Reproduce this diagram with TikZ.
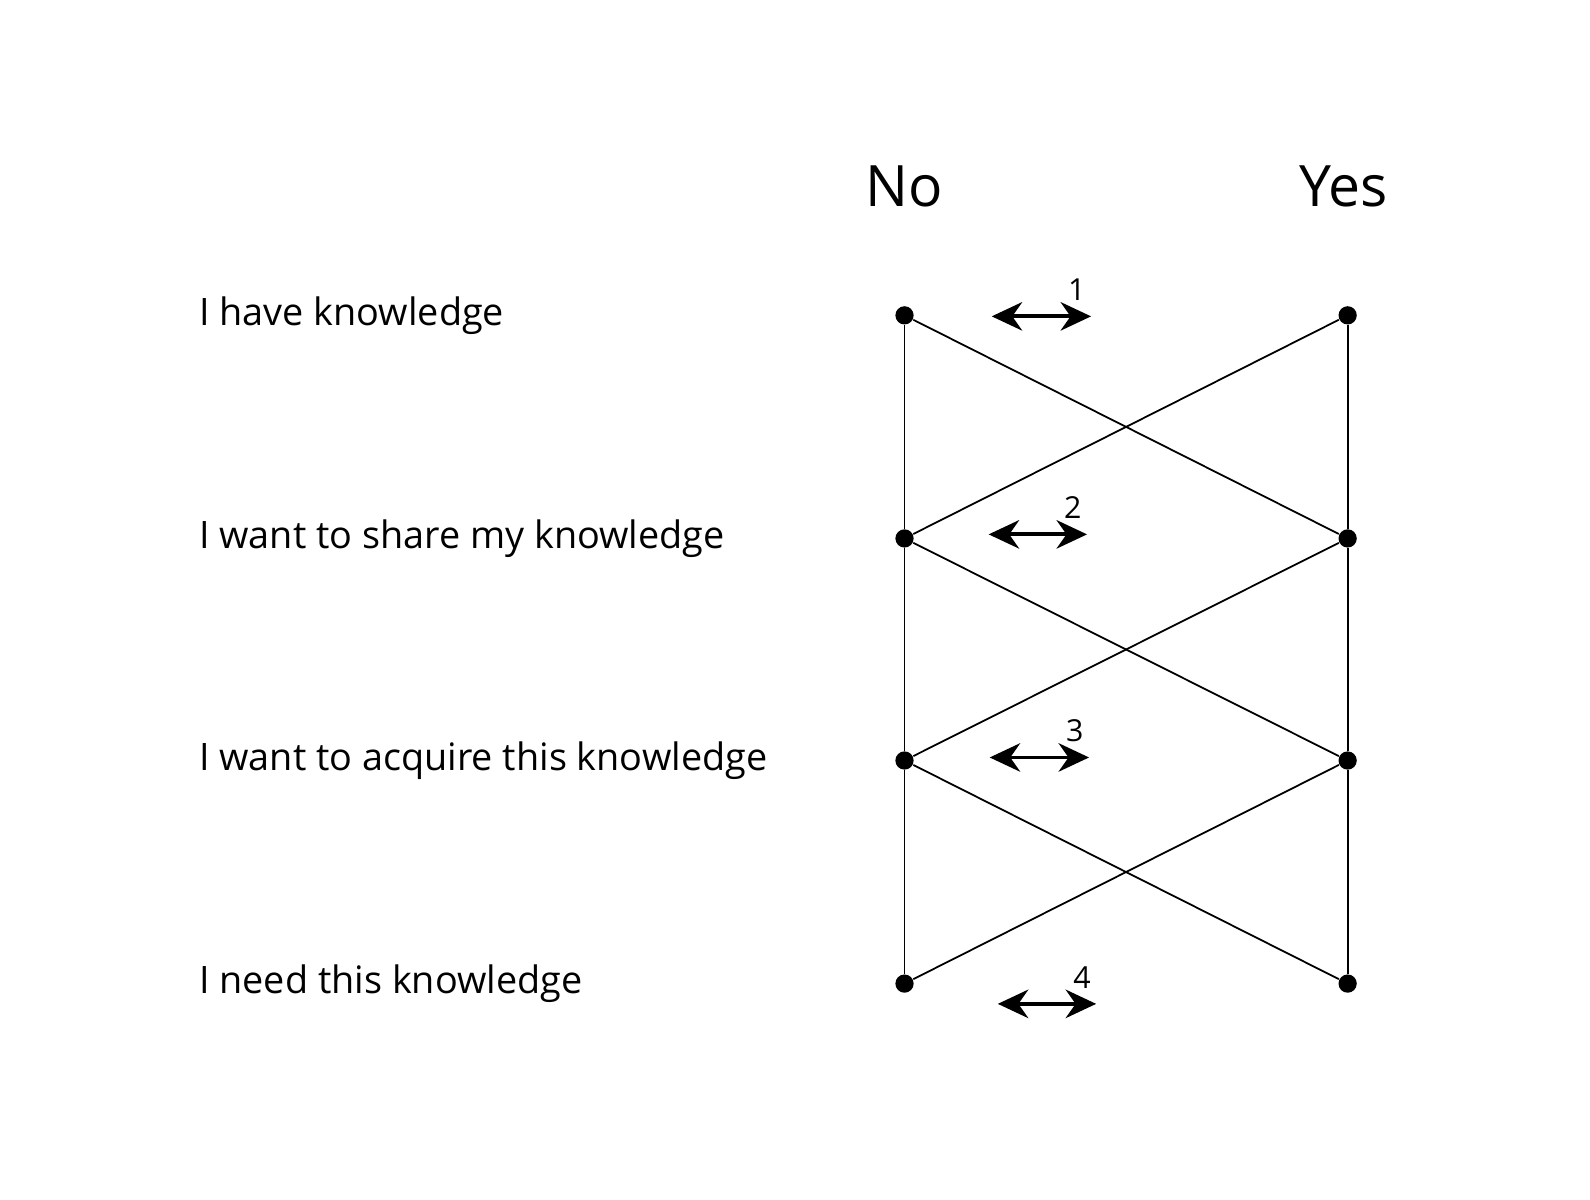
\documentclass[tikz,border=0pt]{standalone}
\usepackage{fontspec}
\setmainfont{Open Sans}
\usetikzlibrary{arrows.meta}
\begin{document}
\begin{tikzpicture}[x=0.01cm,y=-0.01cm,
  dot/.style={circle,fill=black,inner sep=0pt,minimum size=0.18cm},
  lbl/.style={anchor=west,font=\fontsize{10.6}{12}\selectfont},
  head/.style={font=\fontsize{16}{19}\selectfont},
  num/.style={font=\fontsize{8.5}{10}\selectfont},
  edge/.style={line width=0.5pt},
  dbl/.style={{Stealth[length=0.3cm,width=0.28cm]}-{Stealth[length=0.3cm,width=0.28cm]},line width=1.1pt}]
\useasboundingbox (0,0) rectangle (1568,1183);
\node[head] (no) at (892,184) {No};
\node[head] (yes) at (1325,184) {Yes};
\foreach \i/\y/\t in {1/311/I have knowledge,2/531/I want to share my knowledge,3/750/I want to acquire this knowledge,4/970/I need this knowledge}{
  \node[dot] (n\i) at (892,\y) {};
  \node[dot] (y\i) at (1329,\y) {};
  \node[lbl] (l\i) at (184,\y) {\t};
}
\foreach \i/\j in {1/2,2/3,3/4}{
  \draw[edge] (n\i) -- (n\j);
  \draw[edge] (y\i) -- (y\j);
  \draw[edge] (n\i) -- (y\j);
  \draw[edge] (y\i) -- (n\j);
}
\foreach \k/\a/\b/\y in {1/978/1076/312,2/975/1072/527,3/976/1074/747,4/984/1081/990}{
  \coordinate (a\k) at (\a,\y);
  \coordinate (b\k) at (\b,\y);
  \draw[dbl] (a\k) -- (b\k);
  \node[num] (t\k) at ([xshift=-14*0.01cm,yshift=0.26cm]b\k) {\k};
}
\end{tikzpicture}
\end{document}
